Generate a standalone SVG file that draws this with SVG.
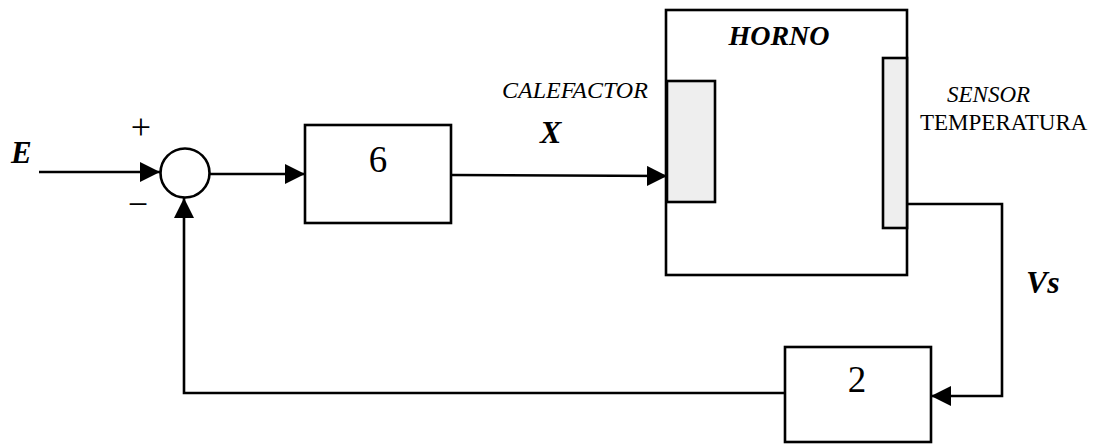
<svg xmlns="http://www.w3.org/2000/svg" width="1099" height="444" viewBox="0 0 1099 444">
  <style>
    .blk { fill: #ffffff; stroke: #000000; stroke-width: 2.6; }
    .pad { fill: #eeeeee; stroke: #000000; stroke-width: 2.6; }
    .wire { fill: none; stroke: #000000; stroke-width: 2.6; }
    text { fill: #000000; }
  </style>
  <defs>
    <marker id="arrow" viewBox="0 0 20 20" refX="20" refY="10" markerWidth="20" markerHeight="20" markerUnits="userSpaceOnUse" orient="auto">
      <path d="M0,0 L20,10 L0,20 Z" fill="#000000"/>
    </marker>
  </defs>

  <rect width="1099" height="444" fill="#ffffff"/>

  <!-- connectors -->
  <g id="connectors">
    <line class="wire" x1="39" y1="172" x2="160" y2="172" marker-end="url(#arrow)"/>
    <line class="wire" x1="209" y1="174" x2="305" y2="174" marker-end="url(#arrow)"/>
    <line class="wire" x1="451" y1="175" x2="667" y2="176" marker-end="url(#arrow)"/>
    <path class="wire" d="M907,204 H1002 V396 H931" marker-end="url(#arrow)"/>
    <path class="wire" d="M785,393 H184 V198" marker-end="url(#arrow)"/>
  </g>

  <!-- input signal -->
  <g id="input">
    <text x="11" y="163" font-family="'Liberation Serif', 'Times New Roman', 'DejaVu Serif', serif" font-weight="bold" font-style="italic" font-size="31">E</text>
  </g>

  <!-- summing junction -->
  <g id="sum">
    <circle class="blk" cx="185" cy="173" r="24.5"/>
    <text x="141" y="139" font-family="'Liberation Serif', 'Times New Roman', 'DejaVu Serif', serif" font-size="36" text-anchor="middle">+</text>
    <text x="138" y="216" font-family="'Liberation Serif', 'Times New Roman', 'DejaVu Serif', serif" font-size="36" text-anchor="middle">−</text>
  </g>

  <!-- controller gain -->
  <g id="controller">
    <rect class="blk" x="305" y="125" width="146" height="98"/>
    <text x="378" y="172" font-family="'Liberation Serif', 'Times New Roman', 'DejaVu Serif', serif" font-size="37" text-anchor="middle">6</text>
  </g>

  <!-- heater label and signal -->
  <g id="heater-label">
    <text x="502" y="98" font-family="'Liberation Serif', 'Times New Roman', 'DejaVu Serif', serif" font-style="italic" font-size="24">CALEFACTOR</text>
    <text x="540" y="143" font-family="'Liberation Serif', 'Times New Roman', 'DejaVu Serif', serif" font-weight="bold" font-style="italic" font-size="32">X</text>
  </g>

  <!-- oven with heater and temperature sensor -->
  <g id="oven">
    <rect class="blk" x="666" y="10" width="241" height="265"/>
    <rect class="pad" x="667" y="81" width="48" height="121"/>
    <rect class="pad" x="883" y="58" width="24" height="170"/>
    <text x="779" y="45" font-family="'Liberation Serif', 'Times New Roman', 'DejaVu Serif', serif" font-weight="bold" font-style="italic" font-size="28" text-anchor="middle">HORNO</text>
  </g>

  <!-- sensor label -->
  <g id="sensor-label">
    <text x="947" y="102" font-family="'Liberation Serif', 'Times New Roman', 'DejaVu Serif', serif" font-style="italic" font-size="23">SENSOR</text>
    <text x="920" y="130" font-family="'Liberation Serif', 'Times New Roman', 'DejaVu Serif', serif" font-size="23">TEMPERATURA</text>
  </g>

  <!-- sensor output signal -->
  <g id="vs-label">
    <text x="1026" y="293" font-family="'Liberation Serif', 'Times New Roman', 'DejaVu Serif', serif" font-weight="bold" font-style="italic" font-size="32">Vs</text>
  </g>

  <!-- feedback gain -->
  <g id="feedback">
    <rect class="blk" x="785" y="347" width="146" height="95"/>
    <text x="857" y="392" font-family="'Liberation Serif', 'Times New Roman', 'DejaVu Serif', serif" font-size="37" text-anchor="middle">2</text>
  </g>
</svg>
